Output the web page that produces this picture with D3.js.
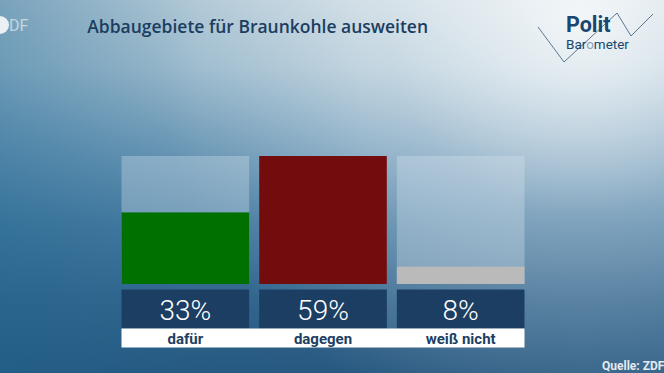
<!DOCTYPE html>
<html><head><meta charset="utf-8">
<script src="https://cdn.jsdelivr.net/npm/d3@7"></script>
<style>html,body{margin:0;padding:0;overflow:hidden;background:#2c5b81}</style>
</head><body>
<script>
const categories = ["dafür", "dagegen", "weiß nicht"];
const values = [33, 59, 8];
const barColors = ["#007000", "#730c0c", "#bababa"];
const valueLabels = ["33%", "59%", "8%"];
const title = "Abbaugebiete für Braunkohle ausweiten";
const source = "Quelle: ZDF";

const W = 664, H = 373;
const svg = d3.select("body").append("svg").attr("width", W).attr("height", H)
  .style("display","block");
const defs = svg.append("defs");

// background gradients
const lg = defs.append("linearGradient").attr("id","bgv").attr("x1",0).attr("y1",0).attr("x2",0).attr("y2",1);
[["0","#c4d5df"],["0.18","#adc6d5"],["0.4","#769fbb"],["0.6","#4a7da2"],["0.8","#34668d"],["1","#275880"]]
  .forEach(([o,c])=>lg.append("stop").attr("offset",o).attr("stop-color",c));
const rg = defs.append("radialGradient").attr("id","bgr").attr("gradientUnits","userSpaceOnUse")
  .attr("cx",580).attr("cy",20).attr("r",430);
[["0","#ffffff",0.8],["0.45","#ffffff",0.3],["1","#ffffff",0]]
  .forEach(([o,c,a])=>rg.append("stop").attr("offset",o).attr("stop-color",c).attr("stop-opacity",a));
const lh = defs.append("linearGradient").attr("id","bgl").attr("x1",0).attr("y1",0).attr("x2",1).attr("y2",0);
[["0","#1d6591",0.45],["0.3","#1d6591",0.12],["0.55","#1d6591",0]]
  .forEach(([o,c,a])=>lh.append("stop").attr("offset",o).attr("stop-color",c).attr("stop-opacity",a));

svg.append("rect").attr("width",W).attr("height",H).attr("fill","url(#bgv)");
svg.append("rect").attr("width",W).attr("height",H).attr("fill","url(#bgr)");
svg.append("rect").attr("width",W).attr("height",H).attr("fill","url(#bgl)");

// ZDF logo (partially cut)
const zdf = svg.append("g").attr("opacity",0.85);
zdf.append("circle").attr("cx",0).attr("cy",25).attr("r",9).attr("fill","#ffffff");
zdf.append("text").attr("x",9).attr("y",31).attr("font-family","Roboto, sans-serif")
  .attr("font-size",16).attr("fill","#e6eef3").attr("opacity",0.8).text("DF");

function fitWidth(sel, target){
  const w = sel.node().getComputedTextLength();
  const fs = parseFloat(sel.attr("font-size"));
  sel.attr("font-size", fs*target/w);
}

// title
const tt = svg.append("text").attr("x",87.3).attr("y",32.7)
  .attr("font-family","'Open Sans', sans-serif").attr("font-weight",600)
  .attr("font-size",17).attr("fill","#1b3d60").text(title);
fitWidth(tt, 341);

// Politbarometer logo
const zig = [[538,27],[564,62],[617,13],[631,36],[653,14]];
svg.append("path").attr("d", d3.line()(zig)).attr("fill","none")
  .attr("stroke","#4d6a86").attr("stroke-width",0.9);
const pt = svg.append("text").attr("x",566).attr("y",32)
  .attr("font-family","Roboto, sans-serif").attr("font-weight",700)
  .attr("font-size",17.5).attr("fill","#1b4670").text("Polit");
fitWidth(pt, 44.5);
const bt = svg.append("text").attr("x",566).attr("y",48.5)
  .attr("font-family","Roboto, sans-serif").attr("font-weight",400)
  .attr("font-size",12).text("Barometer");
fitWidth(bt, 63);
// colour the "o" lighter with a hard-stop gradient on a single text
const n = bt.node();
const o0 = n.getStartPositionOfChar(3).x, o1 = n.getEndPositionOfChar(3).x;
const og = defs.append("linearGradient").attr("id","baro").attr("gradientUnits","userSpaceOnUse")
  .attr("x1",566).attr("y1",0).attr("x2",629).attr("y2",0);
const f0 = (o0-566)/63, f1 = (o1-566)/63;
[[0,"#1b4670"],[f0,"#1b4670"],[f0,"#8aa2b8"],[f1,"#8aa2b8"],[f1,"#1b4670"],[1,"#1b4670"]]
  .forEach(([o,c])=>og.append("stop").attr("offset",o).attr("stop-color",c));
bt.attr("fill","url(#baro)");

// scales
const x = d3.scaleBand().domain(categories).range([121.5, 524.5]).paddingInner(10/137.5).paddingOuter(0);
const y = d3.scaleLinear().domain([0, d3.max(values)]).range([284, 156]);

const g = svg.append("g");
// background boxes
g.selectAll("rect.bgbox").data(categories).join("rect")
  .attr("x", d=>x(d)).attr("y", y(d3.max(values))).attr("width", x.bandwidth())
  .attr("height", y(0)-y(d3.max(values)))
  .attr("fill","#dbe8f0").attr("fill-opacity",0.33);
// bars
g.selectAll("rect.bar").data(values).join("rect")
  .attr("x",(d,i)=>x(categories[i])).attr("y", d=>y(d)).attr("width", x.bandwidth())
  .attr("height", d=>y(0)-y(d)).attr("fill",(d,i)=>barColors[i]);
// value boxes
g.selectAll("rect.vbox").data(categories).join("rect")
  .attr("x", d=>x(d)).attr("y", 289.5).attr("width", x.bandwidth()).attr("height", 39)
  .attr("fill","#1c3e62");
g.selectAll("text.val").data(valueLabels).join("text")
  .attr("x",(d,i)=>x(categories[i])+x.bandwidth()/2).attr("y",319.5)
  .attr("text-anchor","middle").attr("font-family","Roboto, sans-serif").attr("font-weight",300)
  .attr("font-size",28).attr("fill","#ffffff").text(d=>d);
// white label strip
g.append("rect").attr("x", x(categories[0])).attr("y", 328.5)
  .attr("width", x(categories[categories.length-1])+x.bandwidth()-x(categories[0])).attr("height",19)
  .attr("fill","#ffffff");
g.selectAll("text.cat").data(categories).join("text")
  .attr("x", d=>x(d)+x.bandwidth()/2).attr("y",343.5)
  .attr("text-anchor","middle").attr("font-family","Roboto, sans-serif").attr("font-weight",700)
  .attr("font-size",15).attr("fill","#1d3f63").text(d=>d);

// source
svg.append("text").attr("x",602).attr("y",370)
  .attr("font-family","Roboto, sans-serif").attr("font-weight",700)
  .attr("font-size",12).attr("fill","#e3ebf1").text(source);
</script>
</body></html>
